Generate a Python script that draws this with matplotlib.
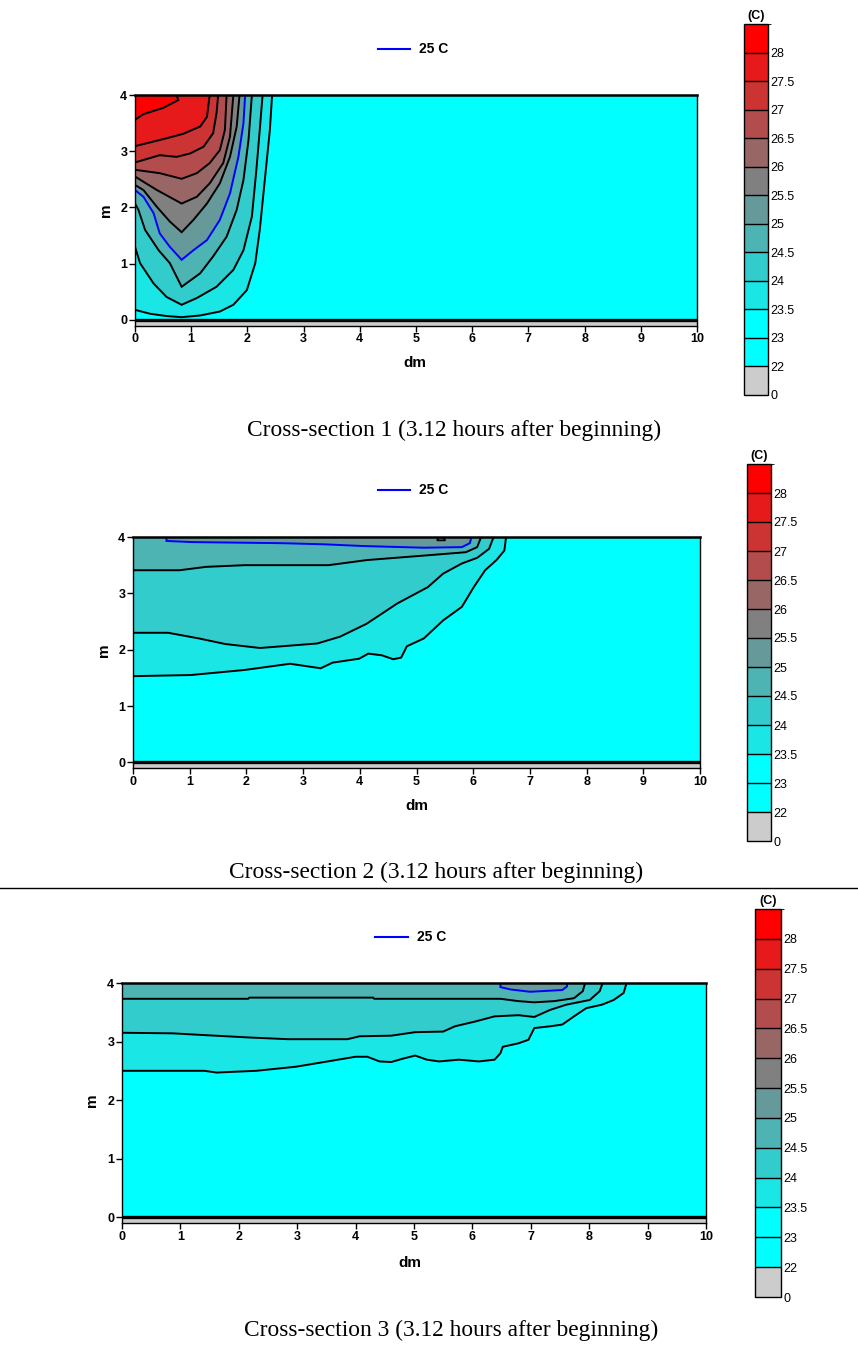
import matplotlib
matplotlib.use("Agg")
import matplotlib.pyplot as plt
from matplotlib.colors import ListedColormap, BoundaryNorm
from matplotlib.cm import ScalarMappable
from matplotlib.lines import Line2D

W, H = 858, 1345

# ---------------- data ----------------
bounds = [0, 22, 23, 23.5, 24, 24.5, 25, 25.5, 26, 26.5, 27, 27.5, 28, 28.5]
band_colors = ['#cccccc', '#00ffff', '#00ffff', '#1ae6e6', '#33cccc', '#4db3b3',
               '#669999', '#808080', '#996666', '#b34d4d', '#cc3333', '#e61a1a', '#ff0000']
cbar_labels = ['0', '22', '23', '23.5', '24', '24.5', '25', '25.5', '26', '26.5', '27', '27.5', '28']
x_ticks = [0, 1, 2, 3, 4, 5, 6, 7, 8, 9, 10]
y_ticks = [0, 1, 2, 3, 4]
captions = ["Cross-section 1 (3.12 hours after beginning)",
            "Cross-section 2 (3.12 hours after beginning)",
            "Cross-section 3 (3.12 hours after beginning)"]
legend_label = "25 C"

# Panel 1 isotherms (level, x, y) -- from left edge to top edge
p1_levels = [23.5, 24, 24.5, 25, 25.5, 26, 26.5, 27, 27.5, 28]
p1_x = [
    [0, 0.27, 0.56, 0.83, 1.16, 1.51, 1.75, 1.99, 2.14, 2.22, 2.31, 2.40, 2.44],
    [0, 0.09, 0.33, 0.56, 0.83, 1.10, 1.45, 1.75, 1.93, 2.08, 2.16, 2.22, 2.27],
    [0, 0.06, 0.18, 0.42, 0.62, 0.83, 1.16, 1.39, 1.63, 1.81, 1.93, 2.02, 2.08],
    [0, 0.15, 0.33, 0.44, 0.62, 0.83, 1.04, 1.28, 1.51, 1.69, 1.84, 1.93, 1.96],
    [0, 0.15, 0.39, 0.62, 0.83, 1.04, 1.28, 1.51, 1.69, 1.81, 1.86],
    [0, 0.39, 0.83, 1.10, 1.33, 1.57, 1.69, 1.75],
    [0, 0.44, 0.83, 1.10, 1.33, 1.51, 1.60, 1.63],
    [0, 0.44, 0.74, 0.98, 1.22, 1.39, 1.45, 1.48],
    [0, 0.56, 0.86, 1.16, 1.28, 1.33],
    [0, 0.15, 0.50, 0.77, 0.74],
]
p1_y = [
    [0.18, 0.11, 0.07, 0.05, 0.08, 0.15, 0.27, 0.53, 1.01, 1.60, 2.49, 3.38, 4.0],
    [1.30, 1.01, 0.65, 0.41, 0.27, 0.39, 0.59, 0.89, 1.24, 1.84, 2.67, 3.38, 4.0],
    [2.07, 1.96, 1.60, 1.24, 1.01, 0.59, 0.83, 1.13, 1.48, 1.96, 2.49, 3.20, 4.0],
    [2.31, 2.19, 1.90, 1.54, 1.30, 1.07, 1.24, 1.42, 1.78, 2.25, 2.90, 3.50, 4.0],
    [2.40, 2.31, 2.01, 1.75, 1.56, 1.78, 2.07, 2.43, 2.90, 3.44, 4.0],
    [2.55, 2.31, 2.07, 2.19, 2.43, 2.79, 3.26, 4.0],
    [2.67, 2.61, 2.51, 2.61, 2.79, 3.02, 3.38, 4.0],
    [2.80, 2.93, 2.90, 2.96, 3.08, 3.32, 3.67, 4.0],
    [3.09, 3.23, 3.31, 3.44, 3.61, 4.0],
    [3.56, 3.66, 3.77, 3.91, 4.0],
]

# Panel 2 isotherms
p2_levels = [23.5, 24, 24.5, 25]
p2_x = [
    [0, 1.02, 1.97, 2.77, 3.31, 3.52, 3.99, 4.15, 4.39, 4.59, 4.73, 4.83, 5.13, 5.47, 5.80, 6.01, 6.21, 6.41, 6.55, 6.58],
    [0, 0.62, 1.16, 1.63, 2.24, 3.25, 3.65, 4.12, 4.66, 5.20, 5.47, 5.80, 6.07, 6.28, 6.36],
    [0, 0.82, 1.29, 1.97, 3.45, 4.12, 5.13, 5.87, 6.07, 6.14],
    [0.59, 0.59, 1.03, 2.64, 3.38, 4.05, 5.13, 5.80, 5.94, 5.97],
]
p2_y = [
    [1.53, 1.55, 1.64, 1.75, 1.67, 1.77, 1.84, 1.93, 1.90, 1.83, 1.86, 2.06, 2.20, 2.52, 2.76, 3.11, 3.41, 3.59, 3.76, 4.0],
    [2.30, 2.30, 2.20, 2.10, 2.03, 2.11, 2.23, 2.46, 2.82, 3.11, 3.35, 3.53, 3.63, 3.79, 4.0],
    [3.41, 3.41, 3.47, 3.50, 3.50, 3.59, 3.67, 3.73, 3.82, 4.0],
    [4.0, 3.93, 3.91, 3.89, 3.87, 3.84, 3.81, 3.82, 3.89, 4.0],
]
p2_mark_x = [5.36, 5.40, 5.47, 5.51]
p2_mark_y = [3.94, 3.99, 3.99, 3.94]

# Panel 3 isotherms
p3_levels = [23.5, 24, 24.5, 25]
p3_x = [
    [0, 1.41, 1.62, 2.30, 2.98, 3.52, 4.00, 4.20, 4.41, 4.61, 4.82, 5.02, 5.22, 5.43, 5.77, 6.11, 6.38, 6.48,
     6.52, 6.79, 6.96, 7.06, 7.33, 7.54, 7.74, 7.95, 8.22, 8.42, 8.59, 8.64],
    [0, 0.87, 1.41, 2.16, 2.84, 3.86, 4.07, 4.61, 5.02, 5.50, 5.70, 6.04, 6.38, 6.79, 7.06, 7.33, 7.61, 8.01, 8.18, 8.23],
    [0, 2.16, 2.18, 4.30, 4.32, 6.48, 6.79, 7.06, 7.40, 7.74, 7.89, 7.93],
    [6.48, 6.48, 6.65, 6.99, 7.54, 7.62, 7.62],
]
p3_y = [
    [2.50, 2.50, 2.47, 2.50, 2.57, 2.66, 2.74, 2.74, 2.66, 2.65, 2.71, 2.76, 2.69, 2.66, 2.69, 2.66, 2.69, 2.80,
     2.91, 2.97, 3.03, 3.23, 3.26, 3.29, 3.43, 3.57, 3.63, 3.71, 3.83, 4.0],
    [3.15, 3.14, 3.11, 3.07, 3.04, 3.04, 3.09, 3.10, 3.16, 3.17, 3.26, 3.34, 3.43, 3.45, 3.42, 3.54, 3.63, 3.71, 3.86, 4.0],
    [3.73, 3.73, 3.75, 3.75, 3.73, 3.73, 3.69, 3.67, 3.69, 3.74, 3.86, 4.0],
    [4.0, 3.93, 3.89, 3.85, 3.88, 3.94, 4.0],
]

# ---------------- layout (pixels) ----------------
panels = [
    dict(ax=(135, 95, 697, 325.6), cb=(744, 24, 768, 395), leg=(378, 410, 49),
         m=(106, 210), dm=(415, 363), cap=(454, 430),
         levels=p1_levels, xs=p1_x, ys=p1_y, mark=None),
    dict(ax=(133, 537, 700, 768), cb=(747, 464, 771, 841), leg=(378, 410, 490),
         m=(104, 650), dm=(417, 806), cap=(436, 872),
         levels=p2_levels, xs=p2_x, ys=p2_y, mark=(p2_mark_x, p2_mark_y)),
    dict(ax=(122, 983, 706, 1223), cb=(755, 909, 781, 1297), leg=(375, 408, 937),
         m=(92, 1100), dm=(410, 1263), cap=(451, 1330),
         levels=p3_levels, xs=p3_x, ys=p3_y, mark=None),
]

plt.rcParams['font.family'] = ['Liberation Sans', 'DejaVu Sans']
fig = plt.figure(figsize=(W / 100, H / 100), dpi=100)


def rect(l, t, r, b):
    return [l / W, 1 - b / H, (r - l) / W, (b - t) / H]


cmap = ListedColormap(band_colors)
norm = BoundaryNorm(bounds, cmap.N)


def band_color(level):
    return band_colors[bounds.index(level)]


for p in panels:
    ax = fig.add_axes(rect(*p['ax']))
    ax.set_xlim(0, 10)
    ax.set_ylim(-0.1, 4)
    # background bands
    ax.fill_between([0, 10], 0, 4, color=band_color(23), lw=0, zorder=1)
    ax.fill_between([0, 10], -0.1, 0, color=band_color(0), lw=0, zorder=1)
    for lev, xs, ys in zip(p['levels'], p['xs'], p['ys']):
        px, py = list(xs), list(ys)
        if px[0] == 0 and py[0] < 4:
            px = px + [0]
            py = py + [4]
        ax.fill(px, py, color=band_color(lev), lw=0, zorder=2)
    for lev, xs, ys in zip(p['levels'], p['xs'], p['ys']):
        ax.plot(xs, ys, color='#0000ff' if lev == 25 else 'black',
                lw=1.4, zorder=3, solid_joinstyle='miter')
    if p['mark'] is not None:
        ax.fill(p['mark'][0], p['mark'][1], facecolor='#808080', edgecolor='black',
                lw=1.2, zorder=4)
    ax.axhline(0, color='black', lw=2.4, zorder=4)
    ax.set_xticks(x_ticks)
    ax.set_yticks(y_ticks)
    ax.tick_params(direction='out', length=4, width=1, labelsize=9, pad=1.5)
    for s in ax.spines.values():
        s.set_linewidth(1.0)
        s.set_zorder(5)
    ax.spines['top'].set_linewidth(1.8)
    for lbl in ax.get_xticklabels() + ax.get_yticklabels():
        lbl.set_fontweight('bold')

    # colorbar
    cax = fig.add_axes(rect(*p['cb']))
    sm = ScalarMappable(norm=norm, cmap=cmap)
    cb = fig.colorbar(sm, cax=cax, spacing='uniform', drawedges=True,
                      ticks=bounds[:-1])
    cb.set_ticklabels(cbar_labels)
    cb.ax.tick_params(length=0, labelsize=9, pad=2)
    cb.outline.set_linewidth(1.0)
    cb.dividers.set_linewidth(1.0)
    cb.dividers.set_color('black')
    cl, ct, cr, cbm = p['cb']
    fig.text(((cl + cr) / 2) / W, 1 - (ct - 2) / H, '(C)', ha='center', va='bottom',
             fontsize=9, fontweight='bold')

    # legend
    x0, x1, yl = p['leg']
    fig.add_artist(Line2D([x0 / W, x1 / W], [1 - yl / H, 1 - yl / H], color='#0000ff', lw=1.5))
    fig.text((x1 + 9) / W, 1 - yl / H, legend_label, ha='left', va='center',
             fontsize=10, fontweight='bold')

    # axis labels
    fig.text(p['m'][0] / W, 1 - p['m'][1] / H, 'm', rotation=90, ha='center', va='center',
             fontsize=11, fontweight='bold')
    fig.text(p['dm'][0] / W, 1 - p['dm'][1] / H, 'dm', ha='center', va='center',
             fontsize=11, fontweight='bold')

for p, cap in zip(panels, captions):
    fig.text(p['cap'][0] / W, 1 - p['cap'][1] / H, cap, ha='center', va='center',
             fontsize=16.8, family=['Liberation Serif', 'DejaVu Serif'])

# separator line between sections 2 and 3
fig.add_artist(Line2D([0, 1], [1 - 888 / H, 1 - 888 / H], color='black', lw=1.0))

fig.savefig('out.png', dpi=100)
